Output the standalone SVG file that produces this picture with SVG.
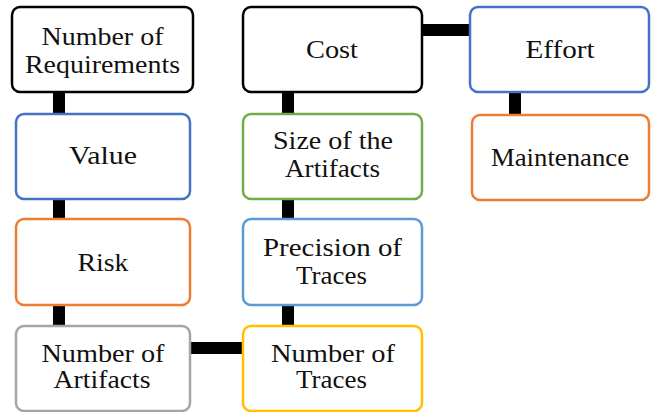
<svg xmlns="http://www.w3.org/2000/svg" width="654" height="412" viewBox="0 0 654 412">
<style>
.box{fill:#fff;stroke-width:2.5}
.t{font-size:25px;fill:#111;text-anchor:middle}
.c{stroke:#000;stroke-width:12;fill:none}
</style>
<rect width="654" height="412" fill="#fff"/>
<g id="connectors">
<line class="c" x1="59" y1="92" x2="59" y2="114"/>
<line class="c" x1="59" y1="199" x2="59" y2="219"/>
<line class="c" x1="59" y1="305" x2="59" y2="326"/>
<line class="c" x1="190" y1="348" x2="243" y2="348"/>
<line class="c" x1="288" y1="92" x2="288" y2="114"/>
<line class="c" x1="288" y1="199" x2="288" y2="219"/>
<line class="c" x1="288" y1="305" x2="288" y2="326"/>
<line class="c" x1="422" y1="30" x2="470" y2="30"/>
<line class="c" x1="515" y1="92" x2="515" y2="115"/>
</g>
<g font-family="Liberation Serif, serif">
<g id="n-requirements">
<rect class="box" x="12" y="7" width="181" height="85" rx="8" stroke="#000"/>
<text class="t" x="102.5" y="45" textLength="122" lengthAdjust="spacingAndGlyphs">Number of</text>
<text class="t" x="102.5" y="72.7" textLength="155" lengthAdjust="spacingAndGlyphs">Requirements</text>
</g>
<g id="n-value">
<rect class="box" x="16" y="114" width="174" height="85" rx="8" stroke="#4472C4"/>
<text class="t" x="103" y="164" textLength="68" lengthAdjust="spacingAndGlyphs">Value</text>
</g>
<g id="n-risk">
<rect class="box" x="16" y="219" width="174" height="86" rx="8" stroke="#ED7D31"/>
<text class="t" x="103" y="270.7" textLength="51" lengthAdjust="spacingAndGlyphs">Risk</text>
</g>
<g id="n-artifacts">
<rect class="box" x="16" y="326" width="174" height="85" rx="8" stroke="#A5A5A5"/>
<text class="t" x="103" y="361.7" textLength="123" lengthAdjust="spacingAndGlyphs">Number of</text>
<text class="t" x="102" y="388.3" textLength="97" lengthAdjust="spacingAndGlyphs">Artifacts</text>
</g>
<g id="n-cost">
<rect class="box" x="243" y="7" width="179" height="85" rx="8" stroke="#000"/>
<text class="t" x="332" y="58" textLength="52" lengthAdjust="spacingAndGlyphs">Cost</text>
</g>
<g id="n-size">
<rect class="box" x="243" y="114" width="179" height="85" rx="8" stroke="#70AD47"/>
<text class="t" x="333" y="149.3" textLength="120" lengthAdjust="spacingAndGlyphs">Size of the</text>
<text class="t" x="332.5" y="176.7" textLength="95" lengthAdjust="spacingAndGlyphs">Artifacts</text>
</g>
<g id="n-precision">
<rect class="box" x="243" y="219" width="179" height="86" rx="8" stroke="#5B9BD5"/>
<text class="t" x="332.5" y="256" textLength="139" lengthAdjust="spacingAndGlyphs">Precision of</text>
<text class="t" x="331.5" y="284" textLength="71" lengthAdjust="spacingAndGlyphs">Traces</text>
</g>
<g id="n-traces">
<rect class="box" x="243" y="326" width="179" height="85" rx="8" stroke="#FFC000"/>
<text class="t" x="333" y="361.7" textLength="124" lengthAdjust="spacingAndGlyphs">Number of</text>
<text class="t" x="331.5" y="388.3" textLength="71" lengthAdjust="spacingAndGlyphs">Traces</text>
</g>
<g id="n-effort">
<rect class="box" x="470" y="7" width="179" height="85" rx="8" stroke="#4472C4"/>
<text class="t" x="560" y="58.3" textLength="69" lengthAdjust="spacingAndGlyphs">Effort</text>
</g>
<g id="n-maintenance">
<rect class="box" x="472" y="115" width="177" height="85" rx="8" stroke="#ED7D31"/>
<text class="t" x="560" y="165.7" textLength="138" lengthAdjust="spacingAndGlyphs">Maintenance</text>
</g>
</g>
</svg>
